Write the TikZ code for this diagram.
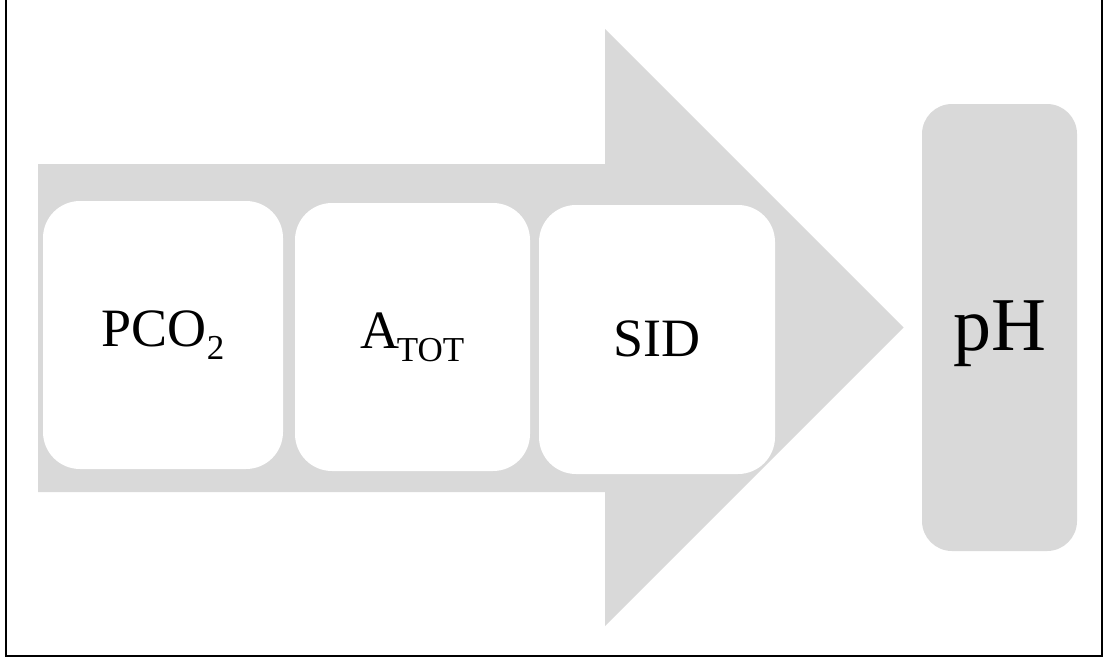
\documentclass[tikz,border=0pt]{standalone}
\usepackage{fontspec}
\setmainfont{Liberation Serif}
\definecolor{arrowgray}{RGB}{217,217,217}
\newcommand{\subtxt}[1]{\raisebox{-13pt}{\fontsize{35}{40}\selectfont #1}}
\begin{document}
\begin{tikzpicture}[x=1pt,y=-1pt,
  stepbox/.style={fill=white, rounded corners=37pt, inner sep=0pt, outer sep=0pt,
    font=\fontsize{54}{60}\selectfont},
  resultbox/.style={fill=arrowgray, rounded corners=30pt, inner sep=0pt, outer sep=0pt,
    font=\fontsize{76}{80}\selectfont, text depth=0pt}]
\useasboundingbox (0,0) rectangle (1107,662);
\clip (0,0) rectangle (1107,662);
\draw[line width=2pt] (6,-10) rectangle (1101.5,655.5);
\fill[arrowgray] (38,164) -- (605,164) -- (605,29) -- (903.5,327.5)
  -- (605,626) -- (605,492) -- (38,492) -- cycle;
\node[stepbox, minimum width=240pt, minimum height=268pt] (pco) at (163,335)
  {PCO\subtxt{2}};
\node[stepbox, minimum width=235pt, minimum height=268pt] (atot) at (412.5,337)
  {A\kern-3pt\subtxt{TOT}};
\node[stepbox, minimum width=236pt, minimum height=269pt, text depth=2pt] (sid) at (657,339.5)
  {SID};
\node[resultbox, minimum width=155pt, minimum height=447pt] (ph) at (999.5,327.5)
  {\raisebox{3pt}{pH}};
\end{tikzpicture}
\end{document}
